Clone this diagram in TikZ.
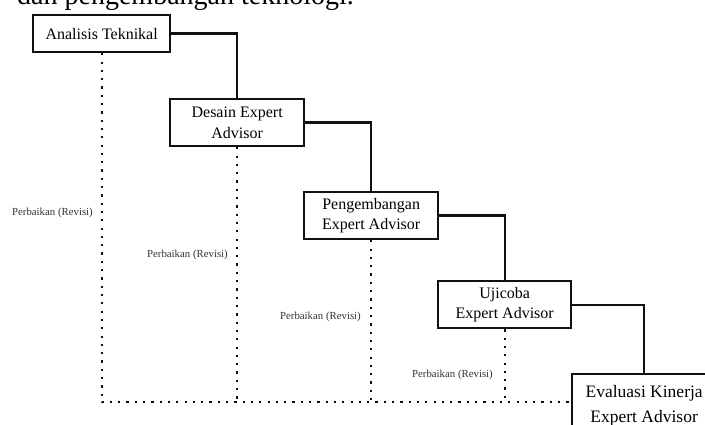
\documentclass[tikz,border=0pt]{standalone}
\usepackage{fontspec}
\setmainfont{Liberation Serif}
\usepackage{xcolor}
\definecolor{InkBlack}{HTML}{111111}
\definecolor{LabelGray}{HTML}{333333}
\usepackage{tikz}
\usetikzlibrary{positioning}
\tikzset{
  stagebox/.style={
    draw=InkBlack,
    line width=2.3pt,
    minimum width=134pt,
    minimum height=47pt,
    align=center,
    font=\fontsize{16}{20.5}\selectfont,
    inner sep=2pt,
    anchor=north west
  },
  fixlabel/.style={
    font=\fontsize{10.8}{12}\selectfont,
    text=LabelGray,
    inner sep=0pt,
    anchor=east
  },
  flowline/.style={
    draw=InkBlack,
    line width=2.3pt
  },
  revline/.style={
    draw=InkBlack,
    line width=2.2pt,
    dash pattern=on 2.2pt off 6.1pt
  }
}

\begin{document}
\begin{tikzpicture}[x=1pt,y=-1pt]
  \useasboundingbox (0,0) rectangle (705,425);
  \clip (0,0) rectangle (705,425);
  \node[anchor=base west, inner sep=0pt, font=\fontsize{28}{30}\selectfont] (caption) at (17,5) {dan pengembangan teknologi.};
  \node[stagebox, minimum width=137pt, minimum height=37pt] (analisis) at (32,14) {Analisis Teknikal};
  \node[stagebox] (desain) at (169,98) {Desain Expert\\Advisor};
  \node[stagebox] (pengembangan) at (303,191) {Pengembangan\\Expert Advisor};
  \node[stagebox, minimum width=133pt] (ujicoba) at (437,280) {Ujicoba\\Expert Advisor};
  \node[stagebox, minimum width=144pt, minimum height=64pt, font=\fontsize{17.5}{25}\selectfont] (evaluasi) at (571,373) {Evaluasi Kinerja\\Expert Advisor};
  \coordinate (loop) at (100.5,402);
  \node[fixlabel] (revisi1) at (93,213) {Perbaikan (Revisi)};
  \node[fixlabel] (revisi2) at (228,255) {Perbaikan (Revisi)};
  \node[fixlabel] (revisi3) at (361,317) {Perbaikan (Revisi)};
  \node[fixlabel] (revisi4) at (493,375) {Perbaikan (Revisi)};
  \foreach \from/\to in {analisis/desain,desain/pengembangan,pengembangan/ujicoba,ujicoba/evaluasi}{\draw[flowline] (\from.east) -| (\to.north);}
  \draw[revline] (analisis.south) -- (analisis.south |- loop) -- (loop -| evaluasi.west);
  \foreach \stage in {desain,pengembangan,ujicoba}{\draw[revline] (\stage.south) -- (\stage.south |- loop);}
\end{tikzpicture}
\end{document}
